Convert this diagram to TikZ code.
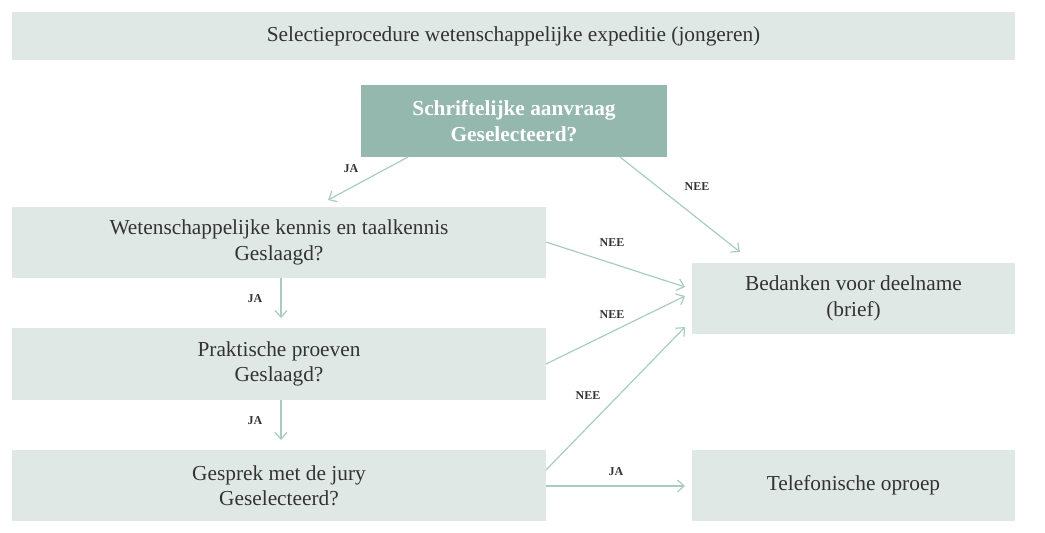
\documentclass[tikz,border=0pt]{standalone}
\usepackage{fontspec}
\setmainfont{Liberation Serif}
\usetikzlibrary{arrows.meta}
\definecolor{teal1}{HTML}{94B8AE}
\definecolor{lite}{HTML}{E0E8E6}
\definecolor{arr}{HTML}{A8CCC2}
\definecolor{txt}{HTML}{333333}
\begin{document}
\begin{tikzpicture}[x=0.75pt,y=-0.75pt,
 box/.style={fill=lite,draw=none,text=txt,align=center,font=\fontsize{16}{19}\selectfont},
 tbox/.style={fill=teal1,draw=none,text=white,align=center,font=\bfseries\fontsize{16}{19}\selectfont},
 con/.style={draw=arr,line width=0.9pt,-{Straight Barb[length=5pt,width=9pt]}},
 lab/.style={text=txt,font=\bfseries\fontsize{9}{10}\selectfont}]
\path[use as bounding box] (0,0) rectangle (1045,532);
\node[box,minimum width=1003*0.75pt,minimum height=48*0.75pt] (title) at (513.5,36) {Selectieprocedure wetenschappelijke expeditie (jongeren)};
\node[tbox,minimum width=306*0.75pt,minimum height=72*0.75pt] (s) at (514,121) {Schriftelijke aanvraag\\Geselecteerd?};
\node[box,minimum width=534*0.75pt,minimum height=71*0.75pt] (w) at (279,242.5) {Wetenschappelijke kennis en taalkennis\\Geslaagd?};
\node[box,minimum width=534*0.75pt,minimum height=72*0.75pt] (p) at (279,364) {Praktische proeven\\Geslaagd?};
\node[box,minimum width=534*0.75pt,minimum height=71*0.75pt] (g) at (279,485.5) {Gesprek met de jury\\Geselecteerd?};
\node[box,minimum width=323*0.75pt,minimum height=71*0.75pt] (b) at (853.5,298.5) {Bedanken voor deelname\\(brief)};
\node[box,minimum width=323*0.75pt,minimum height=71*0.75pt] (t) at (853.5,485.5) {Telefonische oproep};
\coordinate (s1) at (408,157); \coordinate (w0) at (328,200);
\coordinate (s2) at (620,157); \coordinate (b0) at (740,252);
\coordinate (w1) at (546,242); \coordinate (b1) at (685,287);
\coordinate (p1) at (546,364); \coordinate (b2) at (685,296);
\coordinate (g1) at (546,470); \coordinate (b3) at (685,327);
\coordinate (w2) at (281,278); \coordinate (p0) at (281,318);
\coordinate (p2) at (281,400); \coordinate (g0) at (281,440);
\coordinate (g2) at (546,486); \coordinate (t0) at (685,486);
\draw[con] (s1) -- (w0);
\draw[con] (s2) -- (b0);
\draw[con] (w1) -- (b1);
\draw[con] (p1) -- (b2);
\draw[con] (g1) -- (b3);
\draw[con] (w2) -- (p0);
\draw[con] (p2) -- (g0);
\draw[con] (g2) -- (t0);
\node[lab] (l1) at (351,169) {JA};
\node[lab] (l2) at (697,187) {NEE};
\node[lab] (l3) at (612,243) {NEE};
\node[lab] (l4) at (612,315) {NEE};
\node[lab] (l5) at (588,396) {NEE};
\node[lab] (l6) at (255,299) {JA};
\node[lab] (l7) at (255,421) {JA};
\node[lab] (l8) at (616,472) {JA};
\end{tikzpicture}
\end{document}
